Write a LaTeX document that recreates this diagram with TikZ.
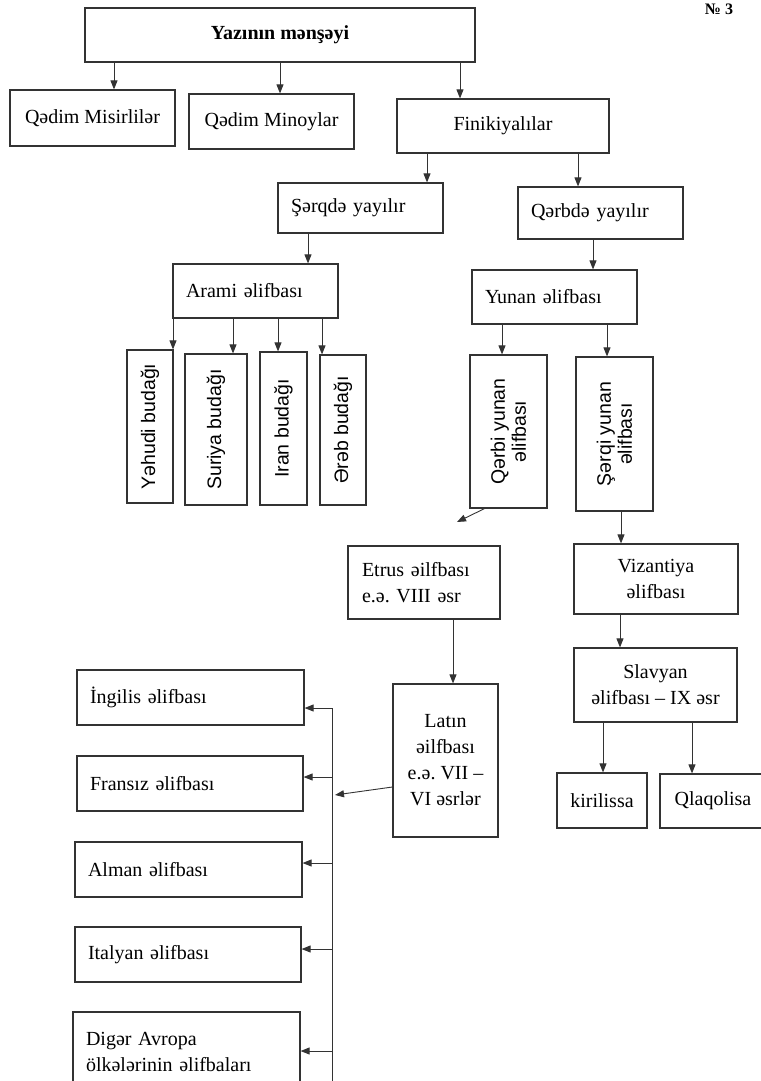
\documentclass[tikz,border=0pt]{standalone}
\usepackage{fontspec}
\setmainfont{Liberation Serif}
\setsansfont{Liberation Sans}
\frenchspacing
\usetikzlibrary{arrows.meta}
\tikzstyle{titlebox} = [rectangle, draw=black!80, line width=1.2pt, inner sep=0pt, text centered, font=\bfseries\fontsize{20}{24}\selectfont]
\tikzstyle{midbox} = [rectangle, draw=black!80, line width=1.2pt, inner sep=0pt, align=center, font=\fontsize{20}{26}\selectfont]
\tikzstyle{leftbox} = [midbox, inner xsep=13pt, align=left]
\tikzstyle{upbox} = [rectangle, draw=black!80, line width=1.2pt, inner sep=0pt, align=center, rotate=90, font=\sffamily\fontsize{19.5}{21}\selectfont]
\tikzstyle{arrow} = [line width=0.9pt, draw=black!80, -{Triangle[length=9pt,width=7pt]}]
\tikzstyle{trunkline} = [line width=0.9pt, draw=black!80]
\begin{document}
\begin{tikzpicture}[x=1pt,y=-1pt]
\useasboundingbox (0,0) rectangle (760,1081);

\node (top) [titlebox, minimum width=390pt, minimum height=54pt] at (280,35) {Yazının mənşəyi};
\node (nomer) [font=\bfseries\fontsize{16}{18}\selectfont] at (719,9) {№ 3};

\node (misir) [midbox, minimum width=165pt, minimum height=56pt] at (92.5,118) {Qədim Misirlilər};
\node (minoy) [midbox, minimum width=165pt, minimum height=55pt] at (271.5,121.5) {Qədim Minoylar};
\node (finik) [midbox, minimum width=212pt, minimum height=54pt] at (503,126) {Finikiyalılar};
\node (serq) [leftbox, text width=139pt, minimum height=50pt] at (360.5,208) {Şərqdə yayılır};
\node (qerb) [leftbox, text width=139pt, minimum height=52pt] at (600.5,213) {Qərbdə yayılır};
\node (arami) [leftbox, text width=139pt, minimum height=54pt] at (255.5,291) {Arami əlifbası};
\node (yunan) [leftbox, text width=139pt, minimum height=54pt] at (554.5,297) {Yunan əlifbası};

\node (yehudi) [upbox, minimum width=153pt, minimum height=46pt] at (150,426.5) {Yəhudi budağı};
\node (suriya) [upbox, minimum width=151pt, minimum height=62pt] at (216,429.5) {Suriya budağı};
\node (iran) [upbox, minimum width=153pt, minimum height=47pt] at (283.5,428.5) {Iran budağı};
\node (ereb) [upbox, minimum width=150pt, minimum height=46pt] at (343,430) {Ərəb budağı};
\node (qerbiyun) [upbox, minimum width=153pt, minimum height=77pt] at (508.5,431.5) {Qərbi yunan\\əlifbası};
\node (serqiyun) [upbox, minimum width=154pt, minimum height=77pt] at (614.5,434) {Şərqi yunan\\əlifbası};

\node (etrus) [leftbox, text width=124pt, inner xsep=14pt, minimum height=73pt] at (424,582.5) {Etrus əilfbası\\e.ə. VIII əsr};
\node (vizant) [midbox, minimum width=164pt, minimum height=70pt] at (656,579) {Vizantiya\\əlifbası};
\node (slavyan) [midbox, minimum width=163pt, minimum height=74pt] at (655.5,685) {Slavyan\\əlifbası – IX əsr};
\node (latin) [midbox, minimum width=105pt, minimum height=153pt] at (445.5,760.5) {Latın\\əilfbası\\e.ə. VII –\\VI əsrlər};
\node (kiril) [midbox, minimum width=90pt, minimum height=55pt] at (602,800.5) {kirilissa};
\node (qlaqol) [midbox, minimum width=106pt, minimum height=54pt] at (713,801) {Qlaqolisa};

\node (ingilis) [leftbox, text width=201pt, minimum height=55pt] at (190.5,697.5) {İngilis əlifbası};
\node (fransiz) [leftbox, text width=200pt, minimum height=55pt] at (190,783.5) {Fransız əlifbası};
\node (alman) [leftbox, text width=201pt, minimum height=55pt] at (188.5,869.5) {Alman əlifbası};
\node (italyan) [leftbox, text width=200pt, minimum height=55pt] at (188,954.5) {Italyan əlifbası};
\node (diger) [leftbox, text width=201pt, minimum height=80pt] at (186.5,1052) {Digər Avropa\\ölkələrinin əlifbaları};

\foreach \x/\a/\b in {114/top/misir, 280/top/minoy, 460/top/finik, 427/finik/serq, 578/finik/qerb, 308/serq/arami, 593/qerb/yunan, 620/vizant/slavyan, 453/etrus/latin, 603/slavyan/kiril, 692/slavyan/qlaqol}
  \draw [arrow] (\x,0 |- \a.south) -- (\x,0 |- \b.north);
\foreach \x/\b in {173/yehudi, 233/suriya, 278/iran, 322/ereb}
  \draw [arrow] (\x,0 |- arami.south) -- (\x,0 |- \b.east);
\foreach \x/\b in {502/qerbiyun, 607/serqiyun}
  \draw [arrow] (\x,0 |- yunan.south) -- (\x,0 |- \b.east);
\draw [arrow] (621,0 |- serqiyun.west) -- (621,0 |- vizant.north);

\coordinate (wfree) at (457,522);
\draw [arrow] ([xshift=-24pt]qerbiyun.west) -- (wfree);

\coordinate (trunktop) at (332,708);
\coordinate (trunkbot) at (332,1090);
\coordinate (trunkin) at (335,795);
\draw [trunkline] (trunktop) -- (trunkbot);
\draw [arrow] ([yshift=-26.5pt]latin.west) -- (trunkin);
\foreach \n/\y in {ingilis/708, fransiz/777, alman/863, italyan/949, diger/1051}
  \draw [arrow] (trunktop |- 0,\y) -- (\n.east |- 0,\y);

\end{tikzpicture}
\end{document}
